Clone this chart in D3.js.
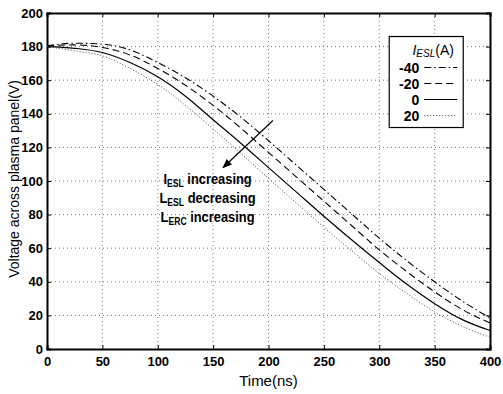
<!DOCTYPE html>
<html>
<head>
<meta charset="utf-8">
<script src="https://cdn.jsdelivr.net/npm/d3@7"></script>
<style>
  body { margin: 0; background: #fff; }
  text { font-family: "Liberation Sans Narrow", "Liberation Sans", Arial, sans-serif; }
</style>
</head>
<body>
<div id="chart"></div>
<script>
// time axis (ns)
var times = [0, 25, 50, 75, 100, 125, 150, 175, 200, 225, 250, 275, 300, 325, 350, 375, 400];
// voltage across plasma panel (V), one array per I_ESL
var vMinus40 = [180.5, 182, 181.5, 178, 170.5, 161.5, 150.5, 138, 124, 109.5, 95, 80.5, 66, 52.5, 40, 28.5, 18.5];
var vMinus20 = [180.5, 181, 179.5, 175, 167, 157, 145, 131.5, 117, 102.5, 88, 73.5, 59, 46, 34, 23.5, 15.5];
var vZero    = [180, 179, 176.5, 170.5, 162, 150.5, 136.5, 122.5, 108, 93.5, 79, 65, 51.5, 38.5, 27, 17.5, 11];
var vPlus20  = [180, 177.5, 174.5, 167, 157.5, 145, 131, 116.5, 101.5, 87, 72.5, 58.5, 45, 33, 22, 13.5, 7];
var seriesNames = ["-40", "-20", "0", "20"];
var xTicks = [0, 50, 100, 150, 200, 250, 300, 350, 400];
var yTicks = [0, 20, 40, 60, 80, 100, 120, 140, 160, 180, 200];

var margin = { top: 13, right: 13, bottom: 45, left: 47 };
var width = 503 - margin.left - margin.right;
var height = 394 - margin.top - margin.bottom;

var svg = d3.select("#chart")
    .append("svg")
    .attr("width", 503)
    .attr("height", 394)
    .append("g")
    .attr("transform", `translate(${margin.left}, ${margin.top})`);

var x = d3.scaleLinear().domain([0, 400]).range([0, width]);
var y = d3.scaleLinear().domain([0, 200]).range([height, 0]);

// grid
svg.append("g").selectAll("line")
    .data(xTicks.slice(1, -1))
    .enter().append("line")
    .attr("x1", d => x(d)).attr("x2", d => x(d))
    .attr("y1", 0).attr("y2", height)
    .attr("stroke", "#777").attr("stroke-width", 1)
    .attr("stroke-dasharray", "1,3");
svg.append("g").selectAll("line")
    .data(yTicks.slice(1, -1))
    .enter().append("line")
    .attr("y1", d => y(d)).attr("y2", d => y(d))
    .attr("x1", 0).attr("x2", width)
    .attr("stroke", "#777").attr("stroke-width", 1)
    .attr("stroke-dasharray", "1,3");

// axes
svg.append("g")
    .attr("transform", `translate(0, ${height})`)
    .call(d3.axisBottom(x).tickValues(xTicks).tickSize(-4).tickPadding(8));
svg.append("g")
    .call(d3.axisLeft(y).tickValues(yTicks).tickSize(-4).tickPadding(4));
svg.append("g")
    .attr("transform", `translate(${width}, 0)`)
    .call(d3.axisRight(y).tickValues(yTicks).tickSize(-4).tickFormat(""));
svg.append("g")
    .call(d3.axisTop(x).tickValues(xTicks).tickSize(-4).tickFormat(""));
svg.selectAll(".domain").attr("stroke", "#000").attr("stroke-width", 2);
svg.selectAll(".tick line").attr("stroke", "#000");
svg.selectAll(".tick text")
    .attr("fill", "#000")
    .style("font-size", "13px")
    .style("font-weight", "bold");

// curves
var styles = [
    { data: vMinus40, dash: "7,3,1.5,3", color: "#000", w: 1.1 },
    { data: vMinus20, dash: "7,4", color: "#000", w: 1.1 },
    { data: vZero, dash: null, color: "#000", w: 1.2 },
    { data: vPlus20, dash: "1,2", color: "#444", w: 1 }
];
var line = d3.line()
    .x(d => x(d[0]))
    .y(d => y(d[1]))
    .curve(d3.curveMonotoneX);
styles.forEach(function(s) {
    svg.append("path")
        .datum(times.map((t, i) => [t, s.data[i]]))
        .attr("d", line)
        .attr("fill", "none")
        .attr("stroke", s.color)
        .attr("stroke-width", s.w)
        .attr("stroke-dasharray", s.dash);
});

// arrow annotation
svg.append("defs").append("marker")
    .attr("id", "head")
    .attr("viewBox", "0 0 10 10")
    .attr("refX", 9).attr("refY", 5)
    .attr("markerWidth", 8).attr("markerHeight", 8)
    .attr("orient", "auto")
    .append("path").attr("d", "M0,1 L10,5 L0,9 Z").attr("fill", "#000");
svg.append("line")
    .attr("x1", x(204)).attr("y1", y(136))
    .attr("x2", x(159)).attr("y2", y(108))
    .attr("stroke", "#000").attr("stroke-width", 1.2)
    .attr("marker-end", "url(#head)");

// annotation text (narrowed like the original)
var notes = [["I", "ESL", " increasing"], ["L", "ESL", " decreasing"], ["L", "ERC", " increasing"]];
notes.forEach(function(n, i) {
    var t = svg.append("g")
        .attr("transform", `translate(${x(145)}, ${y(98) + i * 19}) scale(0.86, 1)`)
        .append("text")
        .attr("text-anchor", "middle")
        .style("font-size", "15px")
        .style("font-weight", "bold")
        .attr("fill", "#000");
    t.append("tspan").text(n[0]);
    t.append("tspan").attr("dy", 3).style("font-size", "10px").text(n[1]);
    t.append("tspan").attr("dy", -3).text(n[2]);
});

// legend
var legend = svg.append("g")
    .attr("transform", `translate(${x(309)}, ${y(186)})`);
legend.append("rect")
    .attr("width", 74).attr("height", 91)
    .attr("fill", "#fff").attr("stroke", "#000").attr("stroke-width", 1.2);
var title = legend.append("text")
    .attr("x", 44).attr("y", 18)
    .attr("text-anchor", "middle")
    .style("font-size", "14px");
title.append("tspan").style("font-style", "italic").text("I");
title.append("tspan").attr("dy", 2).style("font-style", "italic").style("font-size", "10px").text("ESL");
title.append("tspan").attr("dy", -2).text("(A)");
seriesNames.forEach(function(name, i) {
    var yy = 36 + i * 16;
    legend.append("text")
        .attr("x", 30).attr("y", yy)
        .attr("text-anchor", "end")
        .style("font-size", "14px")
        .style("font-weight", "bold")
        .text(name);
    legend.append("line")
        .attr("x1", 35).attr("x2", 68)
        .attr("y1", yy - 5).attr("y2", yy - 5)
        .attr("stroke", styles[i].color)
        .attr("stroke-width", styles[i].w)
        .attr("stroke-dasharray", styles[i].dash);
});

// axis labels
svg.append("text")
    .attr("x", width / 2)
    .attr("y", height + 37)
    .attr("text-anchor", "middle")
    .style("font-size", "15px")
    .text("Time(ns)");
svg.append("text")
    .attr("transform", `translate(${-28}, ${height / 2 - 2}) rotate(-90)`)
    .attr("text-anchor", "middle")
    .style("font-size", "14px")
    .text("Voltage across plasma panel(V)");
</script>
</body>
</html>
